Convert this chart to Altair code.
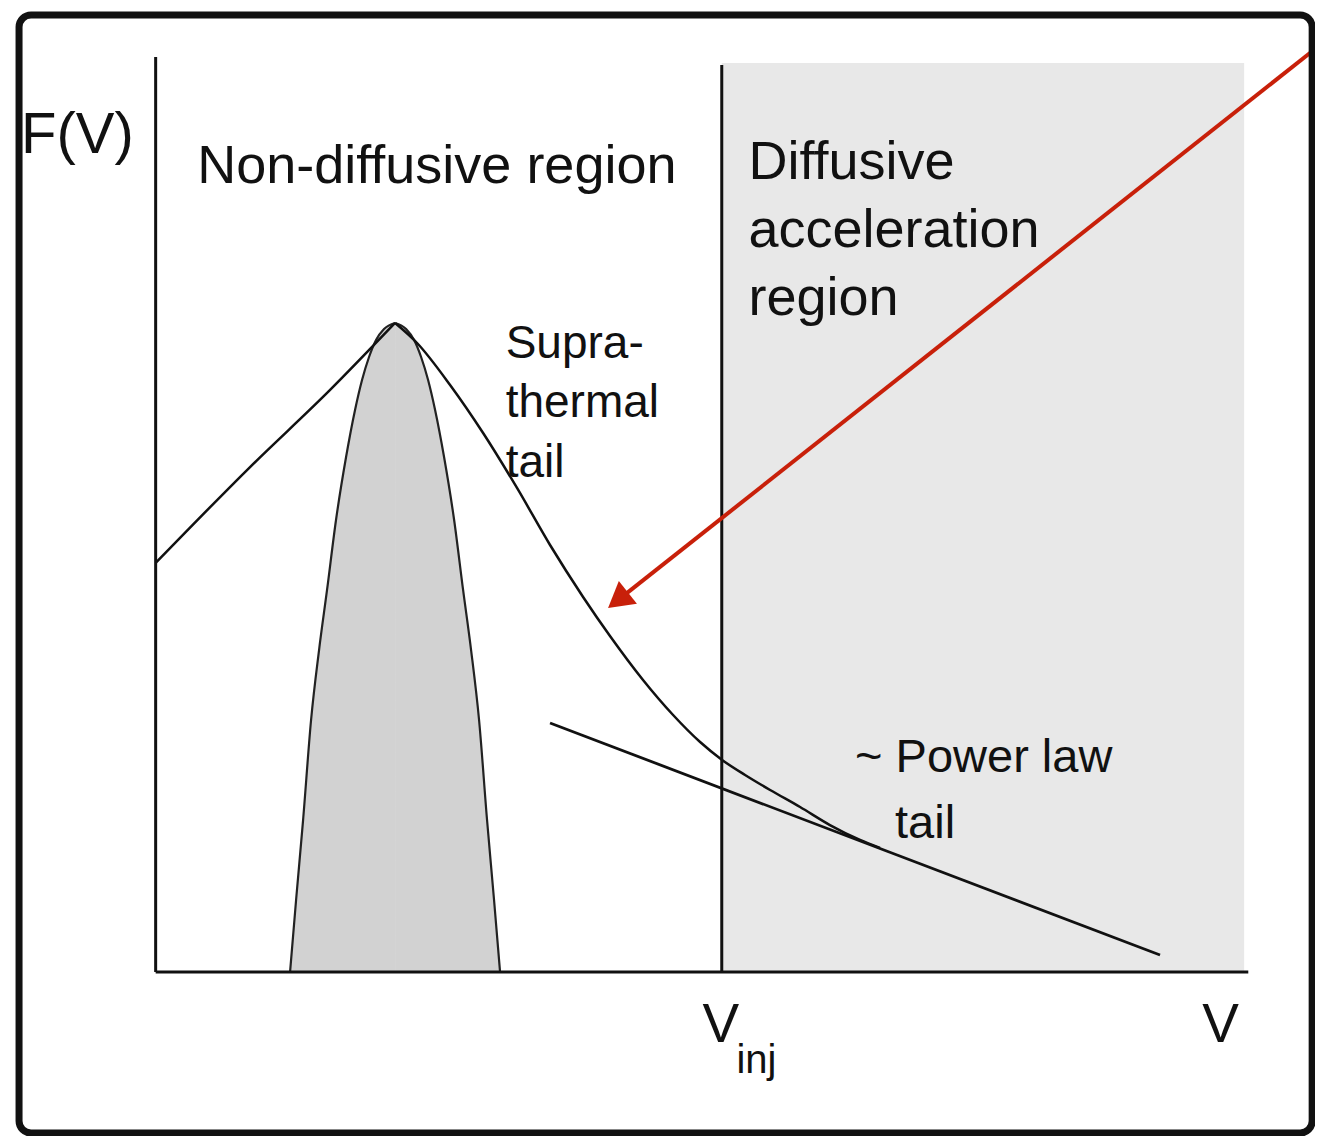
import altair as alt
import pandas as pd

# ---- coordinate frame of the schematic (V horizontal, F(V) vertical) ----
X_DOMAIN = [-13.5, 106.0]
Y_DOMAIN = [-18.02, 105.93]
W, H = 1307, 1128

# Maxwellian core (shaded bell): rising half and falling half (share the peak)
bell_rise_v = [12.29, 12.84, 13.48, 14.21, 14.94, 15.67, 16.49, 17.41, 18.23, 18.87, 19.51, 20.15, 20.88, 21.89]
bell_rise_f = [0, 7.91, 16.70, 27.69, 35.38, 41.98, 49.67, 56.59, 61.76, 65.05, 67.58, 69.45, 70.66, 71.32]
bell_fall_v = [21.89, 22.90, 23.63, 24.27, 24.91, 25.55, 26.37, 27.29, 28.11, 28.84, 29.57, 30.30, 30.94, 31.49]
bell_fall_f = [71.32, 70.66, 69.45, 67.58, 65.05, 61.76, 56.59, 49.67, 41.98, 35.38, 27.69, 16.70, 7.91, 0]

# Full distribution: rising side and supra-thermal tail (share the peak)
curve_rise_v = [0, 8.63, 15.95, 21.89]
curve_rise_f = [44.95, 55.49, 63.96, 71.32]
curve_fall_v = [21.89, 23.90, 26.92, 29.94, 33.04, 36.06, 39.08, 41.54, 44.56,
                47.31, 49.78, 51.79, 53.89, 56.18, 58.92, 61.65, 64.40, 66.23]
curve_fall_f = [71.32, 69.12, 64.51, 59.23, 53.19, 46.92, 41.21, 36.92, 32.09,
                28.24, 25.27, 23.30, 21.65, 20.00, 18.13, 16.15, 14.51, 13.63]

# Power-law tail
power_v = [36.06, 91.83]
power_f = [27.36, 1.87]

# Injection velocity and diffusive region
V_INJ = 51.76
region_right = 99.52
region_top = 99.89

# Axes lines
axis_v = [0, 0, V_INJ]
axis_v2 = [0, 99.9, V_INJ]
axis_f = [0, 0, 0]
axis_f2 = [100.55, 0, 99.67]

# Red arrow
arrow_v = [105.83, 42.27]
arrow_f = [101.26, 40.86]
ARROW_ANGLE = 231.67

# Outer frame
frame_v = [-12.49, 105.74]
frame_f = [-17.70, 105.16]

# Labels
label_text = ["F(V)", "Non-diffusive region", "Diffusive", "acceleration", "region",
              "Supra-", "thermal", "tail", "~ Power law", "tail", "V", "inj", "V"]
label_v = [-12.3, 3.80, 54.2, 54.2, 54.2, 32.0, 32.0, 32.0, 63.95, 67.6, 50.0, 53.1, 95.7]
label_f = [90.0, 86.70, 87.14, 79.67, 72.20, 67.47, 60.99, 54.40, 21.98, 14.73, -7.69, -11.10, -7.69]
label_size = [58, 54, 54, 54, 54, 46, 46, 46, 47, 47, 55, 40, 55]

xs = alt.Scale(domain=X_DOMAIN, nice=False, zero=False)
ys = alt.Scale(domain=Y_DOMAIN, nice=False, zero=False)

def X(f="v"):
    return alt.X(f"{f}:Q", scale=xs, axis=None)

def Y(f="f"):
    return alt.Y(f"{f}:Q", scale=ys, axis=None)

frame = alt.Chart(pd.DataFrame({"v": [frame_v[0]], "v2": [frame_v[1]],
                                "f": [frame_f[0]], "f2": [frame_f[1]]})).mark_rect(
    filled=False, stroke="#111111", strokeWidth=7, cornerRadius=12
).encode(x=X(), x2="v2:Q", y=Y(), y2="f2:Q")

region = alt.Chart(pd.DataFrame({"v": [V_INJ], "v2": [region_right],
                                 "f": [0], "f2": [region_top]})).mark_rect(
    color="#e8e8e8"
).encode(x=X(), x2="v2:Q", y=Y(), y2="f2:Q")

bell_df = pd.DataFrame({
    "v": bell_rise_v + bell_fall_v,
    "f": bell_rise_f + bell_fall_f,
    "side": ["rise"] * len(bell_rise_v) + ["fall"] * len(bell_fall_v),
})
bell_area = alt.Chart(bell_df).mark_area(color="#d2d2d2", interpolate="monotone").encode(
    x=X(), y=Y(), y2=alt.datum(0), detail="side:N")
bell_line = alt.Chart(bell_df).mark_line(color="#222222", strokeWidth=2.2, interpolate="monotone").encode(
    x=X(), y=Y(), detail="side:N")

curve_df = pd.DataFrame({
    "v": curve_rise_v + curve_fall_v,
    "f": curve_rise_f + curve_fall_f,
    "side": ["rise"] * len(curve_rise_v) + ["fall"] * len(curve_fall_v),
})
curve = alt.Chart(curve_df).mark_line(
    color="#111111", strokeWidth=2.5, interpolate="monotone").encode(x=X(), y=Y(), detail="side:N")

power = alt.Chart(pd.DataFrame({"v": power_v, "f": power_f})).mark_line(
    color="#111111", strokeWidth=2.8).encode(x=X(), y=Y())

axes = alt.Chart(pd.DataFrame({"v": axis_v, "v2": axis_v2, "f": axis_f, "f2": axis_f2})).mark_rule(
    color="#111111", strokeWidth=3).encode(x=X(), x2="v2:Q", y=Y(), y2="f2:Q")

arrow_shaft = alt.Chart(pd.DataFrame({"v": [arrow_v[0]], "v2": [arrow_v[1]],
                                      "f": [arrow_f[0]], "f2": [arrow_f[1]]})).mark_rule(
    color="#c8200a", strokeWidth=4).encode(x=X(), x2="v2:Q", y=Y(), y2="f2:Q")

arrow_head = alt.Chart(pd.DataFrame({"v": [arrow_v[1]], "f": [arrow_f[1]]})).mark_point(
    shape="triangle-up", filled=True, color="#c8200a", opacity=1, size=850, angle=ARROW_ANGLE
).encode(x=X(), y=Y())

labels = alt.Chart(pd.DataFrame({"label": label_text, "v": label_v, "f": label_f,
                                 "size": label_size})).mark_text(
    align="left", baseline="alphabetic", font="Liberation Sans", color="#111111"
).encode(x=X(), y=Y(), text="label:N", size=alt.Size("size:Q", scale=None, legend=None))

chart = alt.layer(
    region, bell_area, bell_line, curve, power, axes, arrow_shaft, arrow_head, labels, frame
).properties(
    width=W, height=H, padding=0, autosize=alt.AutoSizeParams(type="none"), background="white"
).configure_view(stroke=None)

chart.save("out.html", embed_options={"renderer": "svg", "actions": False})
